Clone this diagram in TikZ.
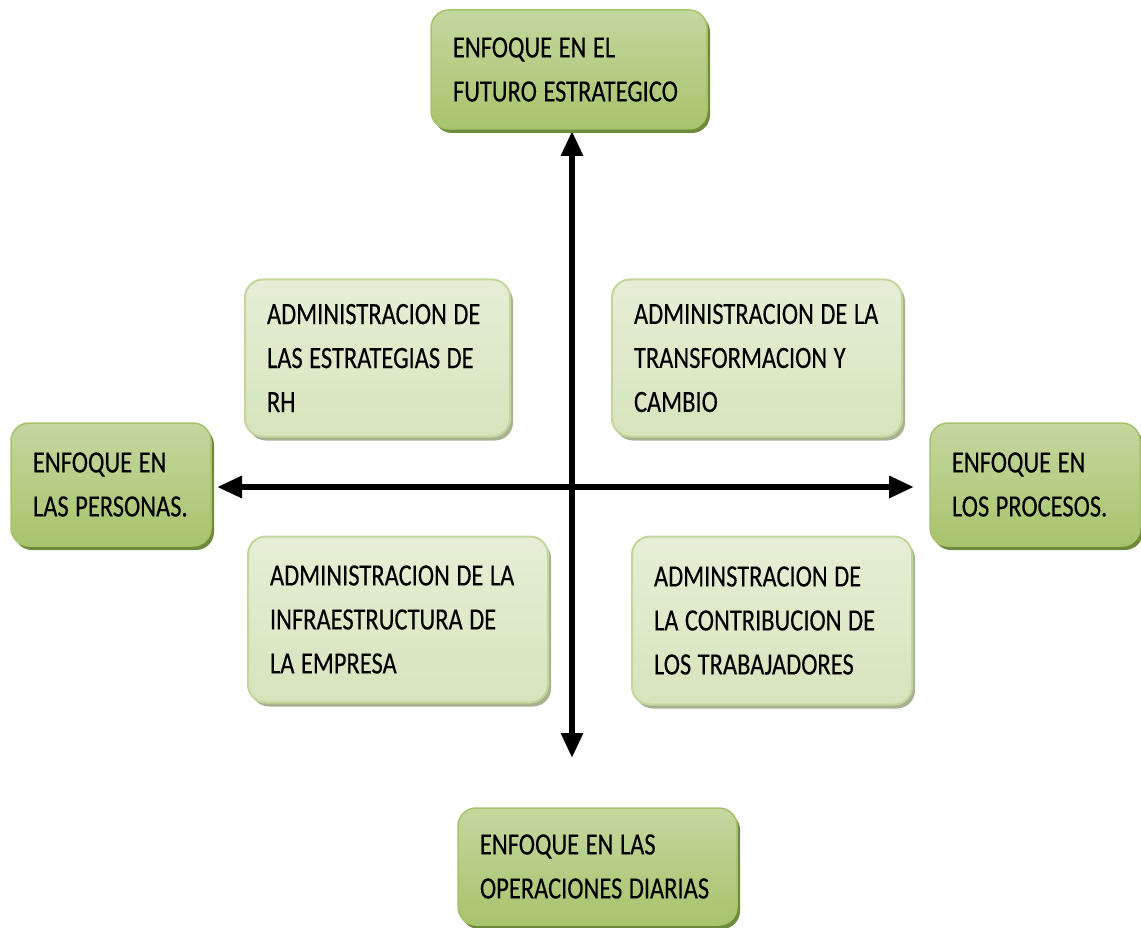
\documentclass[tikz,border=0pt]{standalone}
\usepackage{fontspec}
\setmainfont{Carlito}[FakeStretch=0.79, FakeBold=0.25]
\usetikzlibrary{arrows.meta,shadows}

\newcommand\boxfont{\fontsize{31}{44}\selectfont\spaceskip=6.5pt\relax}

\definecolor{gtop}{HTML}{C4D79F}
\definecolor{gmid}{HTML}{9CBB5A}
\definecolor{gbot}{HTML}{A8C36C}
\definecolor{gline}{HTML}{A6C36A}
\definecolor{gshadow}{HTML}{6E8B3D}
\definecolor{ltop}{HTML}{E6EFD6}
\definecolor{lmid}{HTML}{F3F7EB}
\definecolor{lbot}{HTML}{D6E4BC}
\definecolor{lline}{HTML}{C3D69B}
\definecolor{lshadow}{HTML}{A7B293}

\tikzset{
  txt/.style={font=\boxfont, align=flush left, text=black,
    inner xsep=22pt, inner ysep=0pt, rounded corners=18pt},
  focusbox/.style={txt, top color=gtop, middle color=gmid, bottom color=gbot,
    draw=gline, line width=1.5pt,
    general shadow={fill=gshadow, shadow xshift=3pt, shadow yshift=-4pt}},
  areabox/.style={txt, top color=ltop, middle color=lmid, bottom color=lbot,
    draw=lline, line width=2pt,
    general shadow={fill=lshadow, shadow xshift=3pt, shadow yshift=-4pt}},
  axis/.style={line width=6pt, {Triangle[width=21pt,length=25pt]}-{Triangle[width=21pt,length=25pt]}}
}

\begin{document}
\begin{tikzpicture}[x=1pt, y=-1pt]
\useasboundingbox (0,0) rectangle (1141,928);

% axes
\coordinate (vt) at (572,131);
\coordinate (vb) at (572,758);
\coordinate (hl) at (217,487);
\coordinate (hr) at (914,487);
\draw[axis] (vt) -- (vb);
\draw[axis] (hl) -- (hr);

% four focus boxes at the ends of the axes
\node[focusbox, text width=232pt, minimum height=119pt] (futuro) at (569,69.5)
  {\mbox{ENFOQUE EN EL}\\\mbox{FUTURO ESTRATEGICO}};
\node[focusbox, text width=156pt, minimum height=123pt] (personas) at (111,484.5)
  {\mbox{ENFOQUE EN}\\\mbox{LAS PERSONAS.}};
\node[focusbox, text width=166pt, minimum height=123pt] (procesos) at (1035,484.5)
  {\mbox{ENFOQUE EN}\\\mbox{LOS PROCESOS.}};
\node[focusbox, text width=235pt, minimum height=117pt] (operaciones) at (597.5,866.5)
  {\mbox{ENFOQUE EN LAS}\\\mbox{OPERACIONES DIARIAS}};

% four quadrant boxes
\node[areabox, text width=221pt, minimum height=157pt] (estrategias) at (377.5,358)
  {\mbox{ADMINISTRACION DE}\\\mbox{LAS ESTRATEGIAS DE}\\\mbox{RH}};
\node[areabox, text width=246pt, minimum height=157pt] (cambio) at (757,358)
  {\mbox{ADMINISTRACION DE LA}\\\mbox{TRANSFORMACION Y}\\\mbox{CAMBIO}};
\node[areabox, text width=256pt, minimum height=166pt] (infra) at (398,619.5)
  {\mbox{ADMINISTRACION DE LA}\\\mbox{INFRAESTRUCTURA DE}\\\mbox{LA EMPRESA}};
\node[areabox, text width=236pt, minimum height=168pt] (trabajadores) at (772,620.5)
  {\mbox{ADMINSTRACION DE}\\\mbox{LA CONTRIBUCION DE}\\\mbox{LOS TRABAJADORES}};
\end{tikzpicture}
\end{document}
